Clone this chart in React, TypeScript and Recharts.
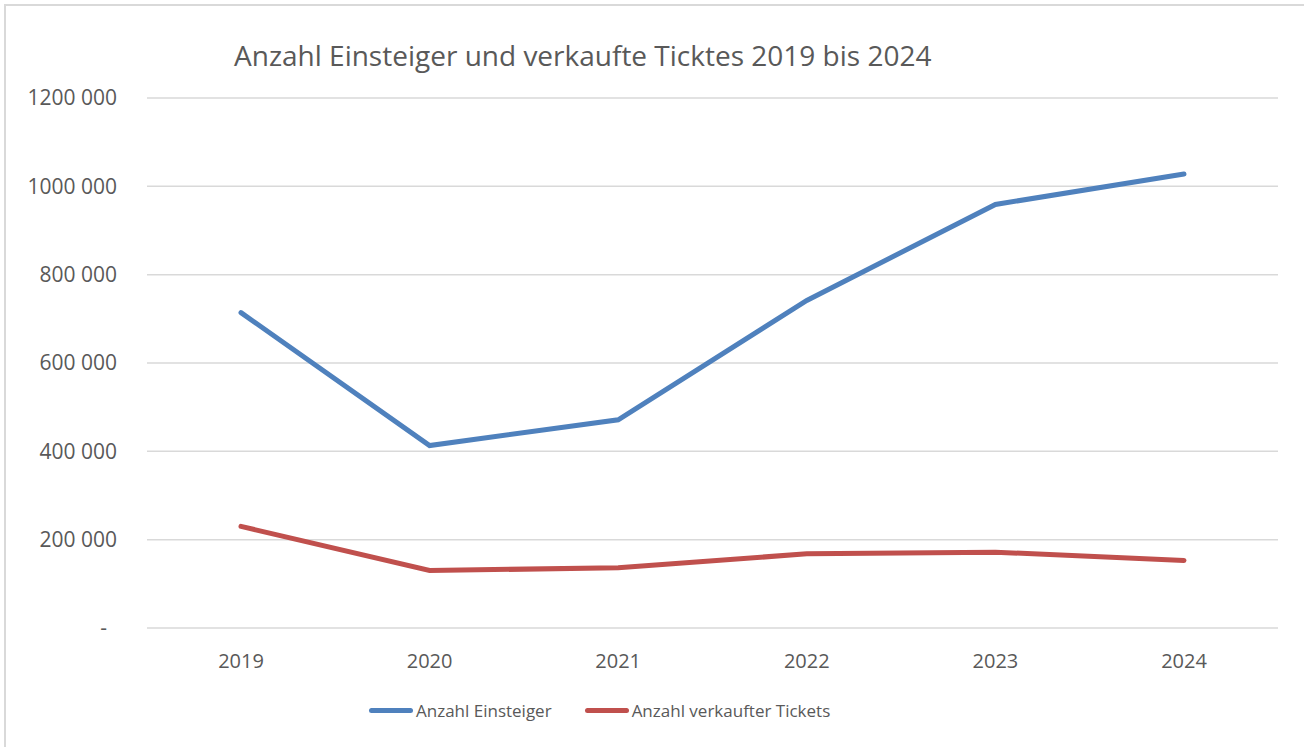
import React from 'react';
import { LineChart, Line, XAxis, YAxis, CartesianGrid, Legend } from 'recharts';

const years = ['2019', '2020', '2021', '2022', '2023', '2024'];
const einsteiger = [714000, 413000, 471500, 741700, 959000, 1027800];
const tickets = [230000, 130200, 136300, 168000, 171700, 152900];
const yTicks = [0, 200000, 400000, 600000, 800000, 1000000, 1200000];

const data = years.map((year, i) => ({
  year,
  einsteiger: einsteiger[i],
  tickets: tickets[i],
}));

const FONT = '"Open Sans", sans-serif';
const TEXT = '#595959';

const formatY = (v: number) => (v === 0 ? '-' : `${v / 1000} 000`);

const YTick = (props: any) => {
  const { x, y, payload } = props;
  const v = payload.value as number;
  return (
    <text
      x={v === 0 ? x - 10 : x}
      y={y}
      dy="0.35em"
      textAnchor="end"
      fill={TEXT}
      fontFamily={FONT}
      fontSize={21}
    >
      {formatY(v)}
    </text>
  );
};

const legendItems = [
  { label: 'Anzahl Einsteiger', color: '#4f81bd' },
  { label: 'Anzahl verkaufter Tickets', color: '#c0504d' },
];

const LegendBox = () => (
  <div style={{ display: 'flex', gap: 33, fontFamily: FONT, fontSize: 17, color: TEXT, paddingLeft: 369 }}>
    {legendItems.map((it) => (
      <div key={it.label} style={{ display: 'flex', alignItems: 'center' }}>
        <span style={{ display: 'inline-block', width: 44, height: 5, borderRadius: 3, background: it.color, marginRight: 3 }} />
        <span>{it.label}</span>
      </div>
    ))}
  </div>
);

export default function App() {
  return (
    <div style={{ position: 'fixed', left: 0, top: 0, width: 1304, height: 747, overflow: 'hidden', background: '#fff' }}>
      <div
        style={{
          position: 'absolute',
          left: 4,
          top: 4,
          width: 1320,
          height: 760,
          borderLeft: '2px solid #d9d9d9',
          borderTop: '2px solid #d9d9d9',
        }}
      />
      <div
        style={{
          position: 'absolute',
          left: 234,
          top: 36,
          fontFamily: FONT,
          fontSize: 28,
          color: TEXT,
          whiteSpace: 'nowrap',
        }}
      >
        Anzahl Einsteiger und verkaufte Ticktes 2019 bis 2024
      </div>
      <LineChart
        width={1304}
        height={747}
        data={data}
        margin={{ top: 98, right: 26, bottom: 0, left: 0 }}
        style={{ position: 'absolute', left: 0, top: 0 }}
      >
        <CartesianGrid vertical={false} stroke="#d9d9d9" strokeWidth={1.5} />
        <XAxis
          dataKey="year"
          axisLine={false}
          tickLine={false}
          padding={{ left: 94, right: 94 }}
          height={96}
          tickMargin={20}
          tick={{ fill: TEXT, fontFamily: FONT, fontSize: 20 }}
        />
        <YAxis
          width={147}
          domain={[0, 1200000]}
          ticks={yTicks}
          axisLine={false}
          tickLine={false}
          tickSize={0}
          tickMargin={30}
          interval={0}
          tick={<YTick />}
        />
        <Legend
          verticalAlign="bottom"
          content={<LegendBox />}
          wrapperStyle={{ position: 'absolute', left: 0, top: 699, width: 1304 }}
        />
        <Line
          dataKey="einsteiger"
          stroke="#4f81bd"
          strokeWidth={5}
          strokeLinecap="round"
          dot={false}
          isAnimationActive={false}
        />
        <Line
          dataKey="tickets"
          stroke="#c0504d"
          strokeWidth={5}
          strokeLinecap="round"
          dot={false}
          isAnimationActive={false}
        />
      </LineChart>
    </div>
  );
}
